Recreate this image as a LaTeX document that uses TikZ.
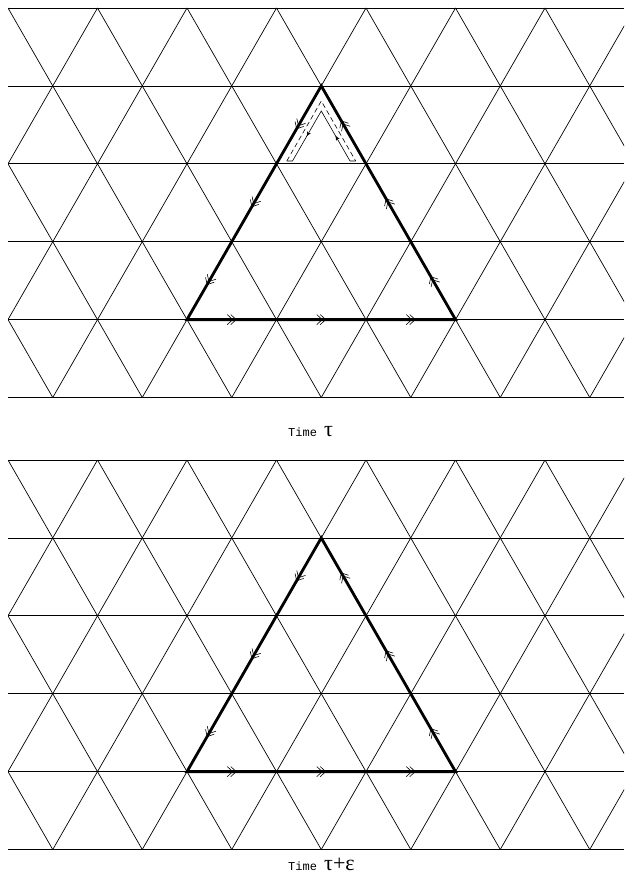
\documentclass[tikz,border=0pt]{standalone}
\usepackage{fontspec}
\setmonofont{Liberation Mono}
\newfontfamily\grk{Liberation Serif}
\usetikzlibrary{decorations.markings,arrows.meta}
\def\aa{89.5}
\def\hh{77.9}
\tikzset{
  grid line/.style={line width=0.7pt, black},
  thick edge/.style={line width=2.8pt, line join=miter, black},
  dchev/.style={decorate, decoration={markings,
     mark=at position 0.5 with {\draw[line width=0.6pt, line join=miter] (-1,5)--(4.5,0)--(-1,-5) (-4.5,5)--(1,0)--(-4.5,-5);}}},
  sarrow/.style={decorate, decoration={markings,
     mark=at position 0.5 with {\arrow{Stealth[length=4.5pt,width=4pt]}}}},
  loopline/.style={line width=0.6pt, black},
  caption/.style={anchor=base west, inner sep=0pt}
}
\newcommand\mylattice{%
  \foreach \r in {0,...,5} {
    \draw[grid line] (8,{-8-\r*\hh}) -- (624,{-8-\r*\hh});
  }
  \begin{scope}
    \clip (8,-8) rectangle (624,{-8-5*\hh});
    \foreach \k in {-4,...,9} {
      \draw[grid line] ({8+\k*\aa},-8) -- ++({2.5*\aa},{-5*\hh});
      \draw[grid line] ({8+\k*\aa},-8) -- ++({-2.5*\aa},{-5*\hh});
    }
  \end{scope}
}
\newcommand\mytriangle{%
  \coordinate (A)  at (321.25,{-8-\hh});
  \coordinate (L2) at (276.5,{-8-2*\hh});
  \coordinate (L1) at (231.75,{-8-3*\hh});
  \coordinate (B0) at (187,{-8-4*\hh});
  \coordinate (B1) at (276.5,{-8-4*\hh});
  \coordinate (B2) at (366,{-8-4*\hh});
  \coordinate (B3) at (455.5,{-8-4*\hh});
  \coordinate (R1) at (410.75,{-8-3*\hh});
  \coordinate (R2) at (366,{-8-2*\hh});
  \draw[thick edge] (A) -- (B0) -- (B3) -- cycle;
  \path[dchev] (B0) -- (B1);
  \path[dchev] (B1) -- (B2);
  \path[dchev] (B2) -- (B3);
  \path[dchev] (B3) -- (R1);
  \path[dchev] (R1) -- (R2);
  \path[dchev] (R2) -- (A);
  \path[dchev] (A) -- (L2);
  \path[dchev] (L2) -- (L1);
  \path[dchev] (L1) -- (B0);
}
\begin{document}
\begin{tikzpicture}[x=1pt,y=1pt]
\useasboundingbox (0,0) rectangle (624,-874);
% top picture
\mylattice
\mytriangle
\coordinate (OL) at (286.8,-161);
\coordinate (OA) at (321.25,-101);
\coordinate (OR) at (355.7,-161);
\coordinate (IR) at (350,-161);
\coordinate (IA) at (321.25,-111);
\coordinate (IL) at (292.5,-161);
\draw[loopline, dash pattern=on 5pt off 3pt] (OL) -- (OA) -- (OR);
\draw[loopline] (OR) -- (IR) -- (IA) -- (IL) -- (OL);
\path[sarrow] (IA) -- (IL);
\path[sarrow] (IR) -- (IA);
\node[caption] (t1) at (288,-436) {\fontsize{12}{14}\selectfont\ttfamily Time\ {\grk\fontsize{22}{24}\selectfont τ}};
% bottom picture
\begin{scope}[yshift=-452pt]
\mylattice
\mytriangle
\end{scope}
\node[caption] (t2) at (288,-870) {\fontsize{12}{14}\selectfont\ttfamily Time\ {\grk\fontsize{22}{24}\selectfont τ+ε}};
\end{tikzpicture}
\end{document}
